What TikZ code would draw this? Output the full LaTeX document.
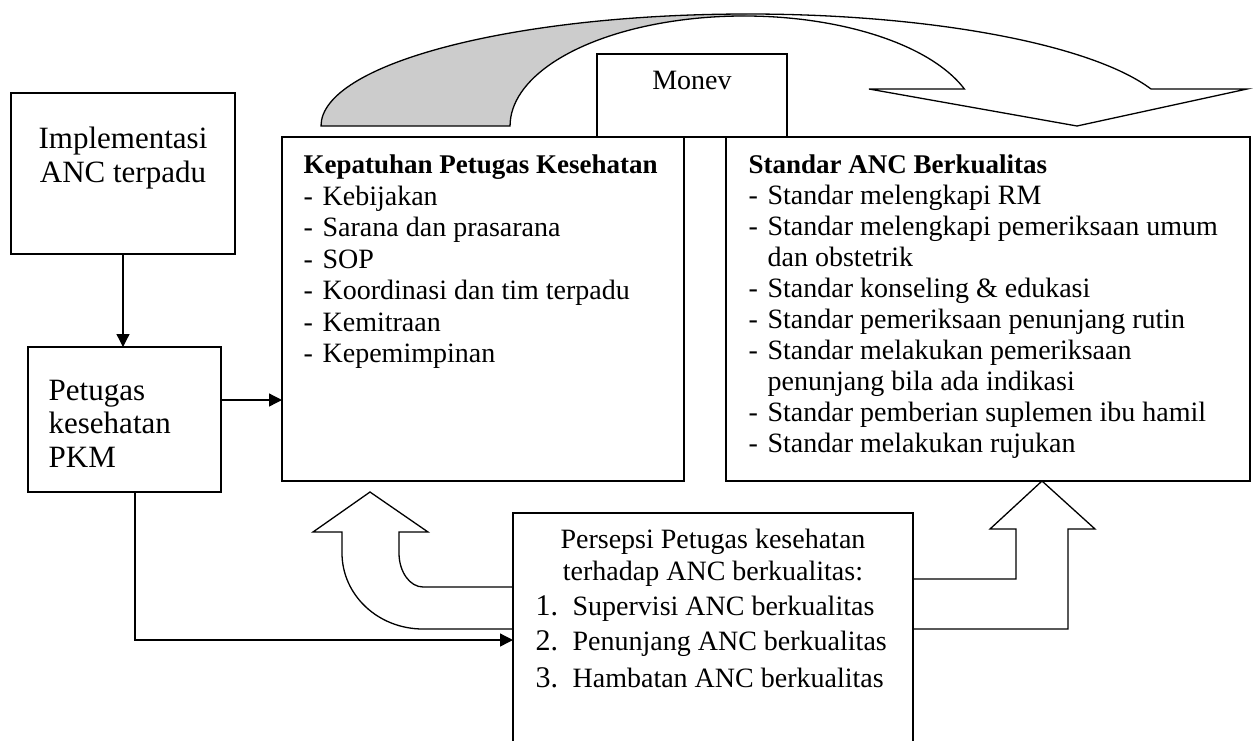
\documentclass[tikz,border=0pt]{standalone}
\usepackage{fontspec}
\setmainfont{Liberation Serif}
\usetikzlibrary{arrows.meta,calc}
\begin{document}
\begin{tikzpicture}[x=1pt,y=-1pt, line width=1.3pt,
  box/.style={draw, rectangle, inner sep=0pt, outer sep=0pt, anchor=north west},
  txt/.style={anchor=base west, inner sep=0pt, font=\fontsize{28}{32}\selectfont},
  hd/.style={anchor=base west, inner sep=0pt, font=\fontsize{27}{32}\selectfont\bfseries},
  big/.style={inner sep=0pt, font=\fontsize{31}{35}\selectfont},
  num/.style={anchor=base west, inner sep=0pt, font=\fontsize{30}{34}\selectfont},
  arr/.style={-{Triangle[length=13pt,width=13pt]}},
  blockarrow/.style={draw, fill=white, line join=miter}]
\path[use as bounding box] (0,0) rectangle (1253,740);
\clip (0,0) rectangle (1253,740);

% curved arrow (Monev loop)
\fill[gray!40] (321,126) arc[start angle=180,end angle=270,x radius=427,y radius=112]
  -- (744,16) arc[start angle=270,end angle=180,x radius=234,y radius=110] -- cycle;
\draw (321,126) arc[start angle=180,end angle=340.71,x radius=427,y radius=112]
  -- (1247,89) -- (1077,126) -- (869,89) -- (964.4,89)
  arc[start angle=340.34,end angle=180,x radius=234,y radius=110] -- cycle;

% block arrows from Persepsi
\draw[blockarrow] (513,587) -- (423,587) .. controls (410,587) and (399,572) .. (399,553)
  -- (399,532) -- (428,532) -- (370,492) -- (313,532) -- (342,532) -- (342,553)
  .. controls (342,595) and (378,629) .. (423,629) -- (513,629);
\draw[blockarrow] (913,579) -- (1016,579) -- (1016,529) -- (990,529) -- (1042,481)
  -- (1095,529) -- (1068,529) -- (1068,629) -- (913,629);

% boxes
\node[box, minimum width=224pt, minimum height=161pt] (impl) at (11,93) {};
\node[box, minimum width=193pt, minimum height=145pt] (pet) at (28,347) {};
\node[box, minimum width=402pt, minimum height=344pt] (kep) at (282,137) {};
\node[box, minimum width=524pt, minimum height=344pt] (std) at (726,137) {};
\node[box, fill=white, minimum width=190pt, minimum height=83pt] (monev) at (597,54) {};
\node[box, minimum width=400pt, minimum height=260pt] (pers) at (513,513) {};

% texts
\node[big, anchor=base] (implA) at (123,148) {Implementasi};
\node[big, anchor=base] (implB) at (123,182) {ANC terpadu};
\node[big, anchor=base west] (petA) at (48,400) {Petugas};
\node[big, anchor=base west] (petB) at (48,433) {kesehatan};
\node[big, anchor=base west] (petC) at (48,467) {PKM};
\node[txt, anchor=base] (monevT) at (692,89) {Monev};

\node[hd] (kepH) at (303,173) {Kepatuhan Petugas Kesehatan};
\foreach \t/\y [count=\i] in {Kebijakan/205, Sarana dan prasarana/236, SOP/268,
  Koordinasi dan tim terpadu/299, Kemitraan/331, Kepemimpinan/362}
  \node[txt] (kep\i) at (303,\y) {\makebox[19pt][l]{-}\t};

\node[hd] (stdH) at (748,173) {Standar ANC Berkualitas};
\foreach \t/\y [count=\i] in {Standar melengkapi RM/204,
  Standar melengkapi pemeriksaan umum/235,
  Standar konseling \& edukasi/297,
  Standar pemeriksaan penunjang rutin/328,
  Standar melakukan pemeriksaan/359,
  Standar pemberian suplemen ibu hamil/421,
  Standar melakukan rujukan/452}
  \node[txt] (std\i) at (748,\y) {\makebox[19pt][l]{-}\t};
\node[txt] (stdC1) at (767,266) {dan obstetrik};
\node[txt] (stdC2) at (767,390) {penunjang bila ada indikasi};

\node[txt, anchor=base] (persA) at (713,548) {Persepsi Petugas kesehatan};
\node[txt, anchor=base] (persB) at (713,580) {terhadap ANC berkualitas:};
\node[num] (n1) at (535,615) {1.};
\node[txt] (p1) at (572,615) {Supervisi ANC berkualitas};
\node[num] (n2) at (535,650) {2.};
\node[txt] (p2) at (572,650) {Penunjang ANC berkualitas};
\node[num] (n3) at (535,687) {3.};
\node[txt] (p3) at (572,687) {Hambatan ANC berkualitas};

% connectors
\draw[arr] (impl.south) -- (impl.south |- pet.north);
\coordinate (petout) at ($(pet.north east)+(0,53)$);
\draw[arr] (petout) -- (petout -| kep.west);
\coordinate (petdown) at ($(pet.south west)+(107,0)$);
\coordinate (persin) at ($(pers.north west)+(0,127)$);
\draw[arr] (petdown) |- (persin);
\end{tikzpicture}
\end{document}
